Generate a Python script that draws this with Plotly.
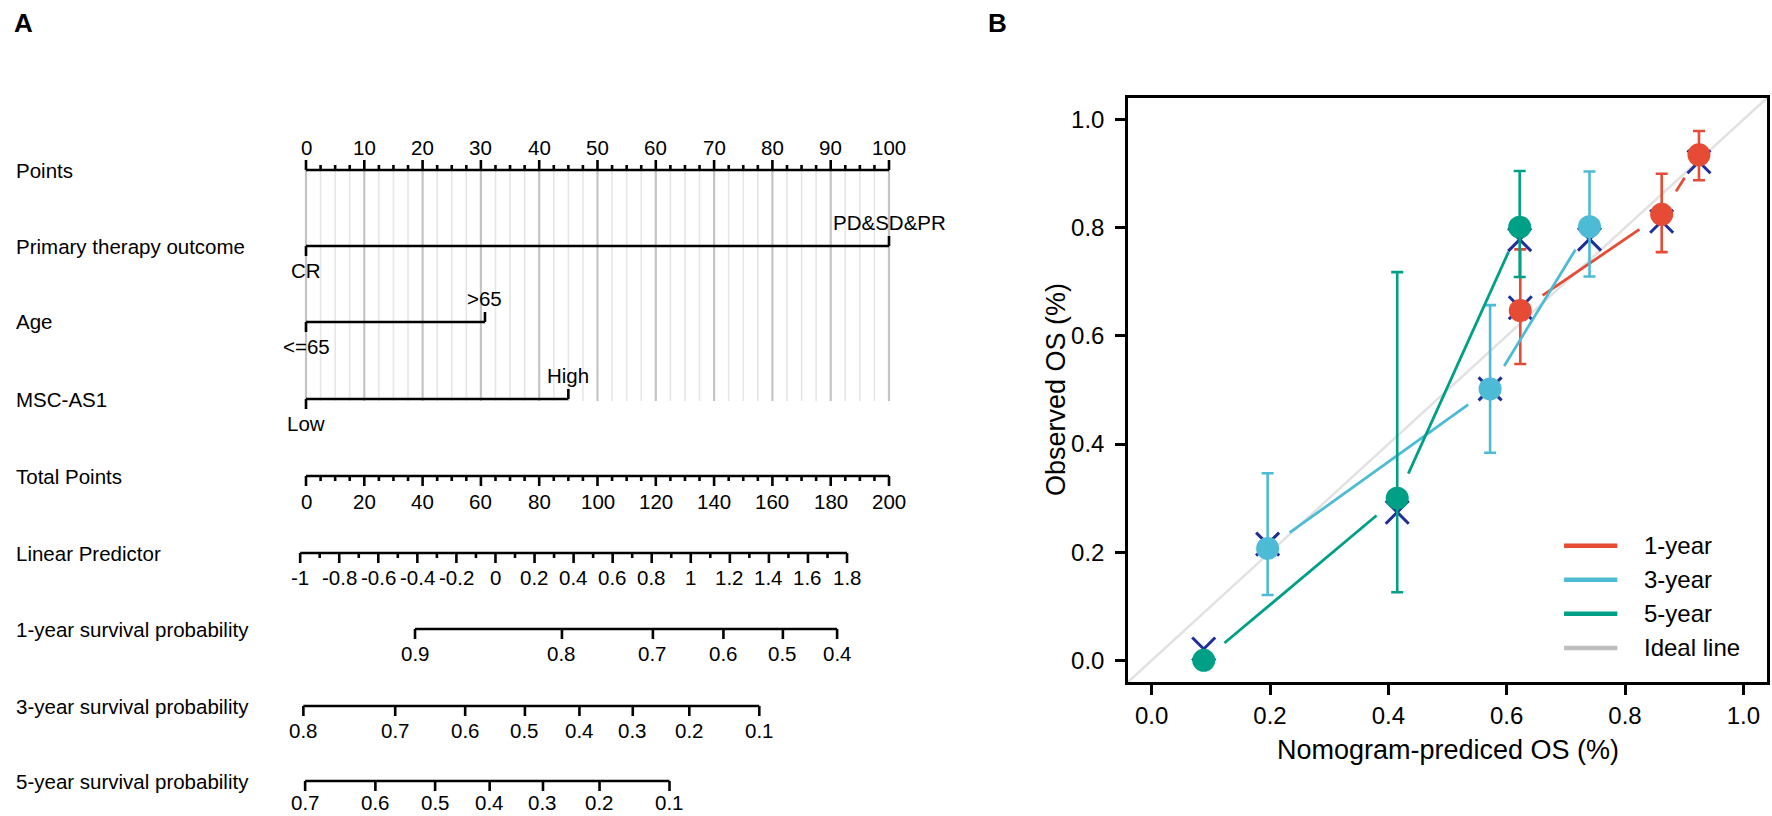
import math
import plotly.graph_objects as go

# ---------------- panel A: nomogram ----------------
point_ticks = [0, 10, 20, 30, 40, 50, 60, 70, 80, 90, 100]
total_ticks = [0, 20, 40, 60, 80, 100, 120, 140, 160, 180, 200]

lp_labels = ['-1', '-0.8', '-0.6', '-0.4', '-0.2', '0', '0.2', '0.4', '0.6', '0.8',
             '1', '1.2', '1.4', '1.6', '1.8']
lp_values = [-1.0, -0.8, -0.6, -0.4, -0.2, 0.0, 0.2, 0.4, 0.6, 0.8, 1.0, 1.2, 1.4, 1.6, 1.8]
lp_total_ends = [-2.0, 185.6]   # total points read at LP = -1 and LP = 1.8

therapy_levels = ['CR', 'PD&amp;SD&amp;PR']
therapy_points = [0, 100]
age_levels = ['&lt;=65', '&gt;65']
age_points = [0, 30.7]
msc_levels = ['Low', 'High']
msc_points = [0, 45]

surv1_labels = ['0.9', '0.8', '0.7', '0.6', '0.5', '0.4']
surv1_total = [37.4, 87.8, 119.0, 143.2, 163.6, 182.2]
surv3_labels = ['0.8', '0.7', '0.6', '0.5', '0.4', '0.3', '0.2', '0.1']
surv3_total = [-0.9, 30.6, 54.6, 75.1, 93.8, 112.1, 131.5, 155.5]
surv5_labels = ['0.7', '0.6', '0.5', '0.4', '0.3', '0.2', '0.1']
surv5_total = [-0.3, 23.8, 44.3, 63.0, 81.3, 100.7, 124.7]

row_names = ['Points', 'Primary therapy outcome', 'Age', 'MSC-AS1', 'Total Points',
             'Linear Predictor', '1-year survival probability',
             '3-year survival probability', '5-year survival probability']

# ---------------- panel B: calibration ----------------
pred_1y = [0.623, 0.862, 0.925]
obs_1y = [0.647, 0.825, 0.935]
up_1y = [0.760, 0.900, 0.979]
lo_1y = [0.548, 0.755, 0.888]
corr_1y = [0.652, 0.812, 0.922]

pred_3y = [0.196, 0.572, 0.740]
obs_3y = [0.207, 0.502, 0.802]
up_3y = [0.346, 0.657, 0.904]
lo_3y = [0.121, 0.384, 0.710]
corr_3y = [0.215, 0.502, 0.779]

pred_5y = [0.088, 0.415, 0.622]
obs_5y = [0.0, 0.300, 0.801]
up_5y = [None, 0.718, 0.905]
lo_5y = [None, 0.126, 0.709]
corr_5y = [0.021, 0.274, 0.778]

series_names = ['1-year', '3-year', '5-year', 'Ideal line']
series_colors = ['#e64b35', '#4dbbd5', '#00a087', '#bebebe']

# ---------------- layout constants ----------------
W, H = 1772, 816
P0_PX, P100_PX = 306, 889
PPX = (P100_PX - P0_PX) / 100.0
FONT = 'Liberation Sans, Arial, sans-serif'
ROW_Y = [170, 246, 322, 399, 476, 553, 629, 706, 781]
TICK_FS = 20.5
LW = 2.6

B_LEFT, B_RIGHT, B_TOP, B_BOT = 1128, 1767, 98, 682
SX = (B_RIGHT - B_LEFT) / 1.08
SY = (B_BOT - B_TOP) / 1.08
GAP = 27

fig = go.Figure()
ann = []


def poly(xs, ys, color='black', width=LW, xa='x', ya='y'):
    fig.add_trace(go.Scatter(x=xs, y=ys, mode='lines', line=dict(color=color, width=width),
                             hoverinfo='skip', showlegend=False, xaxis=xa, yaxis=ya))


def label(x, y, text, size=TICK_FS):
    ann.append(dict(x=x, y=y, xref='x', yref='y', text=text, showarrow=False,
                    font=dict(size=size), xanchor='center', yanchor='middle'))


# vertical reference lines behind the predictor scales
gx_minor, gy_minor, gx_major, gy_major = [], [], [], []
for i in range(41):
    v = i * 2.5
    if i % 4 == 0:
        gx_major += [v, v, None]
        gy_major += [ROW_Y[0], 401, None]
    else:
        gx_minor += [v, v, None]
        gy_minor += [ROW_Y[0], 401, None]
poly(gx_minor, gy_minor, '#e6e6e6', 1.6)
poly(gx_major, gy_major, '#c4c4c4', 2.2)

# Points scale
y = ROW_Y[0]
xs, ys = [0, 100, None], [y, y, None]
for i in range(41):
    v = i * 2.5
    xs += [v, v, None]
    ys += [y, y - (10 if i % 4 == 0 else 5), None]
poly(xs, ys)
for t in point_ticks:
    label(t, y - 23, str(t))

# categorical predictors
for row, levels, pts in [(1, therapy_levels, therapy_points),
                         (2, age_levels, age_points),
                         (3, msc_levels, msc_points)]:
    y = ROW_Y[row]
    xs, ys = [min(pts), max(pts), None], [y, y, None]
    for k, (lev, p) in enumerate(zip(levels, pts)):
        d = 1 if k % 2 == 0 else -1
        xs += [p, p, None]
        ys += [y, y + 10 * d, None]
        label(p, y + 24 * d, lev)
    poly(xs, ys)

# Total points
y = ROW_Y[4]
xs, ys = [0, 100, None], [y, y, None]
for t in range(0, 201, 5):
    xs += [t / 2, t / 2, None]
    ys += [y, y + (10 if t % 20 == 0 else 5), None]
poly(xs, ys)
for t in total_ticks:
    label(t / 2, y + 25, str(t))


def lp_to_pts(v):
    a, b = lp_total_ends
    return (a + (v - lp_values[0]) * (b - a) / (lp_values[-1] - lp_values[0])) / 2


# Linear predictor
y = ROW_Y[5]
xs, ys = [lp_to_pts(lp_values[0]), lp_to_pts(lp_values[-1]), None], [y, y, None]
for k, v in enumerate(lp_values):
    xs += [lp_to_pts(v), lp_to_pts(v), None]
    ys += [y, y + 10, None]
    label(lp_to_pts(v), y + 24, lp_labels[k])
    if k < len(lp_values) - 1:
        m = (v + lp_values[k + 1]) / 2
        xs += [lp_to_pts(m), lp_to_pts(m), None]
        ys += [y, y + 5, None]
poly(xs, ys)

# survival probability scales
for row, labs, tots in [(6, surv1_labels, surv1_total),
                        (7, surv3_labels, surv3_total),
                        (8, surv5_labels, surv5_total)]:
    y = ROW_Y[row]
    off = 24 if row < 8 else 21
    xs, ys = [tots[0] / 2, tots[-1] / 2, None], [y, y, None]
    for lab, t in zip(labs, tots):
        xs += [t / 2, t / 2, None]
        ys += [y, y + 10, None]
        label(t / 2, y + off, lab)
    poly(xs, ys)

for name, y in zip(row_names, ROW_Y):
    ann.append(dict(x=14 / W, y=1 - y / H, xref='paper', yref='paper', text=name,
                    showarrow=False, font=dict(size=20.5), xanchor='left', yanchor='middle'))

# ---------------- calibration curves ----------------
ideal = dict(type='line', xref='x2 domain', yref='y2 domain', x0=0, y0=0, x1=1, y1=1,
             line=dict(color='#e2e2e2', width=2.5), layer='below')


def gapped(px, py):
    ox, oy = [], []
    for i in range(len(px) - 1):
        dx, dy = px[i + 1] - px[i], py[i + 1] - py[i]
        L = math.hypot(dx * SX, dy * SY)
        if L <= 2 * GAP:
            continue
        f = GAP / L
        ox += [px[i] + f * dx, px[i + 1] - f * dx, None]
        oy += [py[i] + f * dy, py[i + 1] - f * dy, None]
    return ox, oy


series = [(pred_1y, obs_1y, up_1y, lo_1y, corr_1y),
          (pred_3y, obs_3y, up_3y, lo_3y, corr_3y),
          (pred_5y, obs_5y, up_5y, lo_5y, corr_5y)]

for (px, py, up, lo, corr), col in zip(series, series_colors):
    sx, sy = gapped(px, py)
    poly(sx, sy, col, 2.8, 'x2', 'y2')
    fig.add_trace(go.Scatter(x=px, y=corr, mode='markers', xaxis='x2', yaxis='y2',
                             marker=dict(symbol='x-thin-open', size=23, color='#1f2f98',
                                         line=dict(color='#1f2f98', width=3)),
                             hoverinfo='skip', showlegend=False))
    fig.add_trace(go.Scatter(
        x=px, y=py, mode='markers', xaxis='x2', yaxis='y2',
        marker=dict(color=col, size=23),
        error_y=dict(type='data', symmetric=False,
                     array=[None if u is None else u - v for u, v in zip(up, py)],
                     arrayminus=[None if l is None else v - l for l, v in zip(lo, py)],
                     color=col, thickness=2.6, width=6),
        hoverinfo='skip', showlegend=False))

# legend
shapes = [ideal]
for k, (name, col) in enumerate(zip(series_names, series_colors)):
    ly = 0.212 - 0.063 * k
    shapes.append(dict(type='line', xref='x2', yref='y2', x0=0.697, x1=0.787, y0=ly, y1=ly,
                       line=dict(color=col, width=4.5)))
    ann.append(dict(x=0.829, y=ly, xref='x2', yref='y2', text=name, showarrow=False,
                    font=dict(size=24), xanchor='left', yanchor='middle'))

# panel letters and axis titles
ann.append(dict(x=12 / W, y=1 - 23 / H, xref='paper', yref='paper', text='<b>A</b>',
                showarrow=False, font=dict(size=26), xanchor='left', yanchor='middle'))
ann.append(dict(x=986 / W, y=1 - 23 / H, xref='paper', yref='paper', text='<b>B</b>',
                showarrow=False, font=dict(size=26), xanchor='left', yanchor='middle'))
ann.append(dict(x=(B_LEFT + B_RIGHT) / 2 / W, y=1 - 750 / H, xref='paper', yref='paper',
                text='Nomogram-prediced OS (%)', showarrow=False, font=dict(size=27),
                xanchor='center', yanchor='middle'))
ann.append(dict(x=1056 / W, y=1 - (B_TOP + B_BOT) / 2 / H, xref='paper', yref='paper',
                text='Observed OS (%)', showarrow=False, font=dict(size=27), textangle=-90,
                xanchor='center', yanchor='middle'))

cal_ticks = [0, 0.2, 0.4, 0.6, 0.8, 1.0]
cal_text = ['0.0', '0.2', '0.4', '0.6', '0.8', '1.0']
axis_b = dict(range=[-0.04, 1.04], tickvals=cal_ticks, ticktext=cal_text, ticks='outside',
              ticklen=10, tickwidth=2.5, tickcolor='black', showline=True, linewidth=2.5,
              linecolor='black', mirror=True, showgrid=False, zeroline=False,
              tickfont=dict(size=24), fixedrange=True)

fig.update_layout(
    width=W, height=H, margin=dict(l=0, r=0, t=0, b=0),
    paper_bgcolor='white', plot_bgcolor='rgba(0,0,0,0)', showlegend=False,
    font=dict(family=FONT, color='black'),
    xaxis=dict(domain=[0, 1], range=[-P0_PX / PPX, (W - P0_PX) / PPX], visible=False,
               fixedrange=True),
    yaxis=dict(domain=[0, 1], range=[H, 0], visible=False, fixedrange=True),
    xaxis2=dict(domain=[B_LEFT / W, B_RIGHT / W], anchor='y2', **axis_b),
    yaxis2=dict(domain=[1 - B_BOT / H, 1 - B_TOP / H], anchor='x2', ticklabelstandoff=6,
                **axis_b),
    shapes=shapes, annotations=ann,
)

# the page body has a default margin; drop it so the figure fills the window
fig.write_html("out.html", config={'displayModeBar': False},
               post_script="document.body.style.margin='0px';")
